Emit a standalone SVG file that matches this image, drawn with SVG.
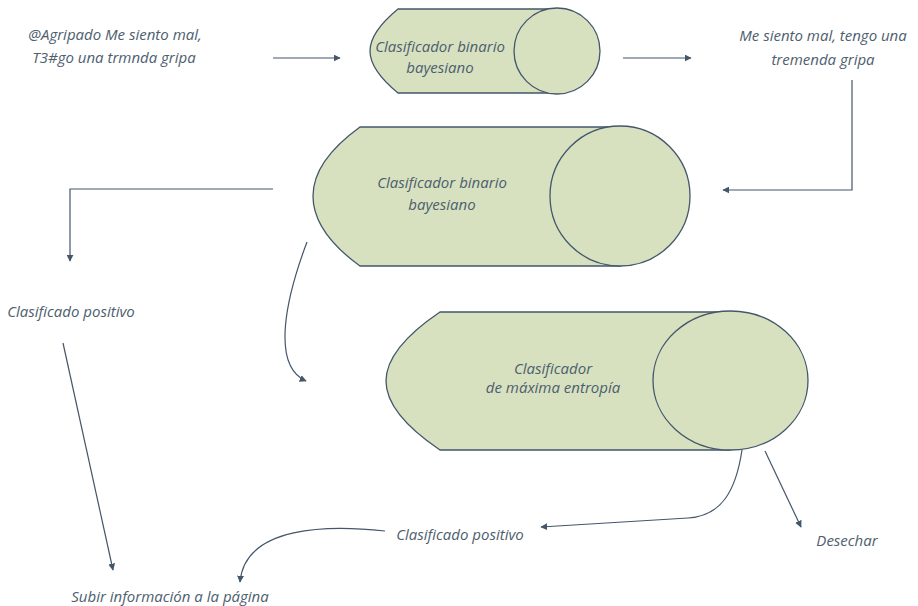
<svg xmlns="http://www.w3.org/2000/svg" width="918" height="606" viewBox="0 0 918 606">
<defs>
<marker id="ah" viewBox="0 0 10 10" refX="9" refY="5" markerWidth="7" markerHeight="7" markerUnits="userSpaceOnUse" orient="auto">
<path d="M0,0 L10,5 L0,10 z" fill="#44566a"/>
</marker>
<style>
.body{fill:#d7e1c0;stroke:#44566a;stroke-width:1.3}
.t{font-family:"Open Sans","Liberation Sans",sans-serif;font-style:italic;font-size:15px;fill:#4d5e6e;text-anchor:middle}
.c{fill:none;stroke:#44566a;stroke-width:1.2;marker-end:url(#ah)}
</style>
</defs>
<rect width="918" height="606" fill="#ffffff"/>
<g id="connectors">
<path class="c" d="M273,58 L340,58"/>
<path class="c" d="M623,58 L691,58"/>
<path class="c" d="M852,80 L852,190 L723,190"/>
<path class="c" d="M273,189 L70,189 L70,261"/>
<path class="c" d="M307,242 C287,295 270,365 306,381"/>
<path class="c" d="M63,343 L113,570"/>
<path class="c" d="M742,450 C736,490 722,516 688,518 L541,527"/>
<path class="c" d="M765,451 L801,527"/>
<path class="c" d="M385,531 C330,525 245,525 240,582"/>
</g>
<g id="input">
<text class="t" x="115" y="40">@Agripado Me siento mal,</text>
<text class="t" x="114" y="63">T3#go una trmnda gripa</text>
</g>
<g id="clasificador1">
<path class="body" d="M398,9 L557,9 L557,93 L398,93 C381,79 370,65 370,51 C370,37 381,23 398,9 Z"/>
<ellipse class="body" cx="557" cy="51" rx="43" ry="43"/>
<text class="t" x="440" y="52">Clasificador binario</text>
<text class="t" x="440" y="73">bayesiano</text>
</g>
<g id="limpio">
<text class="t" x="823" y="41">Me siento mal, tengo una</text>
<text class="t" x="823" y="65">tremenda gripa</text>
</g>
<g id="clasificador2">
<path class="body" d="M360,127 L620,127 L620,266 L360,266 C331,245 313,222 313,196 C313,170 331,148 360,127 Z"/>
<ellipse class="body" cx="620" cy="196" rx="70" ry="70"/>
<text class="t" x="442" y="188">Clasificador binario</text>
<text class="t" x="442" y="210">bayesiano</text>
</g>
<g id="positivo1">
<text class="t" x="71" y="317">Clasificado positivo</text>
</g>
<g id="clasificador3">
<path class="body" d="M440,312 L730,312 L730,450 L440,450 C406,427 386,404 386,381 C386,358 406,335 440,312 Z"/>
<ellipse class="body" cx="730.5" cy="380.5" rx="77.5" ry="69.5"/>
<text class="t" x="553" y="374">Clasificador</text>
<text class="t" x="553" y="393">de máxima entropía</text>
</g>
<g id="positivo2">
<text class="t" x="460" y="540">Clasificado positivo</text>
</g>
<g id="desechar">
<text class="t" x="847" y="546">Desechar</text>
</g>
<g id="subir">
<text class="t" x="170" y="602">Subir información a la página</text>
</g>
</svg>
